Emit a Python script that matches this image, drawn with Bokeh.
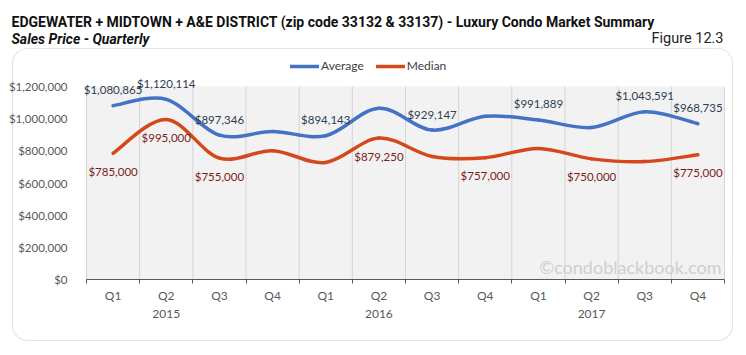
import numpy as np
from bokeh.plotting import figure
from bokeh.core.properties import value
from bokeh.models import (ColumnDataSource, Range1d, FixedTicker, LabelSet, Label,
                          Legend, LegendItem, NumeralTickFormatter, BoxAnnotation, LinearAxis)
from bokeh.embed import file_html
from bokeh.resources import INLINE

# ---------------- data ----------------
quarters = ["Q1", "Q2", "Q3", "Q4", "Q1", "Q2", "Q3", "Q4", "Q1", "Q2", "Q3", "Q4"]
years = ["2015", "2016", "2017"]
average = [1080865, 1120114, 897346, 920000, 894143, 1065000, 929147, 1015000,
           991889, 945000, 1043591, 968735]
median = [785000, 995000, 755000, 800000, 728000, 879250, 765000, 757000,
          815000, 750000, 733000, 775000]
avg_labeled = [1, 1, 1, 0, 1, 0, 1, 0, 1, 0, 1, 1]
med_labeled = [1, 1, 1, 0, 0, 1, 0, 1, 0, 1, 0, 1]
y_ticks = [0, 200000, 400000, 600000, 800000, 1000000, 1200000]

title = "EDGEWATER + MIDTOWN + A&E DISTRICT (zip code 33132 & 33137) - Luxury Condo Market Summary"
subtitle = "Sales Price - Quarterly"
fig_no = "Figure 12.3"
watermark = "\u00a9condoblackbook.com"

BLUE = "#4472C4"
RED = "#D4481C"
AXIS_TXT = "#595959"
FONT = "Lato"
TFONT = "Roboto"

n = len(quarters)
xs = np.arange(n) + 0.5
bounds = list(range(n + 1))
year_pos = [float(xs[j * 4 + 1]) for j in range(len(years))]


def bezier_source(vals):
    P = np.column_stack([xs, np.asarray(vals, dtype=float)])
    d = dict(x0=[], y0=[], x1=[], y1=[], cx0=[], cy0=[], cx1=[], cy1=[])
    for i in range(n - 1):
        p0 = P[max(i - 1, 0)]
        p1 = P[i]
        p2 = P[i + 1]
        p3 = P[min(i + 2, n - 1)]
        c1 = p1 + (p2 - p0) / 6.0
        c2 = p2 - (p3 - p1) / 6.0
        d["x0"].append(p1[0]); d["y0"].append(p1[1])
        d["x1"].append(p2[0]); d["y1"].append(p2[1])
        d["cx0"].append(c1[0]); d["cy0"].append(c1[1])
        d["cx1"].append(c2[0]); d["cy1"].append(c2[1])
    return ColumnDataSource(d)


# ---------------- layout (canvas pixels) ----------------
W, H = 738, 347
PL, PR, PT, PB = 86, 724, 86, 279          # plot area edges
ppx = (PR - PL) / n
ppy = (PB - PT) / y_ticks[-1]

p = figure(width=W, height=H, output_backend="svg", toolbar_location=None,
           x_range=Range1d(-PL / ppx, n + (W - PR) / ppx),
           y_range=Range1d(-(H - PB) / ppy, y_ticks[-1] + PT / ppy),
           min_border_left=0, min_border_right=0, min_border_top=0, min_border_bottom=0)
p.outline_line_color = None
p.background_fill_color = "white"
p.border_fill_color = "white"
p.grid.grid_line_color = None

# outer rounded border
p.add_layout(BoxAnnotation(left=12, right=732, top=H - 48, bottom=H - 340,
                           left_units="screen", right_units="screen",
                           top_units="screen", bottom_units="screen",
                           fill_color=None, line_color="#a6a6a6", line_width=1.2,
                           border_radius=15, level="underlay"))

# plot area background + vertical grid
p.quad(left=[bounds[0]], right=[bounds[-1]], bottom=[y_ticks[0]], top=[y_ticks[-1]],
       fill_color="#f2f2f2", line_color=None)
p.segment(x0=bounds, y0=[y_ticks[0]] * len(bounds), x1=bounds, y1=[y_ticks[-1]] * len(bounds),
          line_color="#d4d4d4", line_width=1)

# x axis: quarters (drawn inside the frame)
p.xaxis.fixed_location = 0
p.xaxis.ticker = FixedTicker(ticks=list(xs), minor_ticks=bounds)
p.xaxis.major_label_overrides = {float(xs[i]): q for i, q in enumerate(quarters)}
p.xaxis.bounds = (0, n)
p.xaxis.major_tick_out = 0
p.xaxis.major_tick_in = 0
p.xaxis.minor_tick_out = 4
p.xaxis.minor_tick_in = 0
p.xaxis.minor_tick_line_color = "#595959"
p.xaxis.axis_line_color = "#595959"
p.xaxis.major_label_standoff = 4
p.xaxis.major_label_text_font = FONT
p.xaxis.major_label_text_font_size = "12px"
p.xaxis.major_label_text_color = AXIS_TXT

# x axis: years
year_axis = LinearAxis(fixed_location=0, ticker=FixedTicker(ticks=year_pos),
                       major_label_overrides={pos: yr for pos, yr in zip(year_pos, years)},
                       axis_line_color=None, major_tick_line_color=None,
                       minor_tick_line_color=None, major_label_standoff=24,
                       major_label_text_font=FONT, major_label_text_font_size="12px",
                       major_label_text_color=AXIS_TXT)
p.add_layout(year_axis, "below")

# y axis
p.yaxis.fixed_location = 0
p.yaxis.ticker = FixedTicker(ticks=y_ticks)
p.yaxis.bounds = (y_ticks[0], y_ticks[-1])
p.yaxis.formatter = NumeralTickFormatter(format="$0,0")
p.yaxis.axis_line_color = None
p.yaxis.major_tick_line_color = None
p.yaxis.minor_tick_line_color = None
p.yaxis.major_label_standoff = 13
p.yaxis.major_label_text_font = FONT
p.yaxis.major_label_text_font_size = "11.5px"
p.yaxis.major_label_text_color = AXIS_TXT

# watermark
p.add_layout(Label(x=n, y=0, x_offset=-3, y_offset=2, text=watermark,
                   text_align="right", text_baseline="bottom",
                   text_font=FONT, text_font_size="18px", text_color="#cfcfcf"))

# curves
r_avg = p.bezier(x0="x0", y0="y0", x1="x1", y1="y1", cx0="cx0", cy0="cy0", cx1="cx1", cy1="cy1",
                 source=bezier_source(average), line_color=BLUE, line_width=3.5, line_cap="round")
r_med = p.bezier(x0="x0", y0="y0", x1="x1", y1="y1", cx0="cx0", cy0="cy0", cx1="cx1", cy1="cy1",
                 source=bezier_source(median), line_color=RED, line_width=3.5, line_cap="round")

# data labels
ai = [i for i in range(n) if avg_labeled[i]]
mi = [i for i in range(n) if med_labeled[i]]
avg_src = ColumnDataSource(dict(x=[xs[i] for i in ai], y=[average[i] for i in ai],
                                t=["${:,}".format(average[i]) for i in ai]))
med_src = ColumnDataSource(dict(x=[xs[i] for i in mi], y=[median[i] for i in mi],
                                t=["${:,}".format(median[i]) for i in mi]))
p.add_layout(LabelSet(x="x", y="y", text="t", source=avg_src, y_offset=16,
                      text_align="center", text_baseline="middle",
                      text_font=value(FONT), text_font_size=value("11.5px"),
                      text_color=value("#2f3e50")))
p.add_layout(LabelSet(x="x", y="y", text="t", source=med_src, y_offset=-18,
                      text_align="center", text_baseline="middle",
                      text_font=value(FONT), text_font_size=value("11.5px"),
                      text_color=value("#7b1c1c")))

# legend
legend = Legend(items=[LegendItem(label="Average", renderers=[r_avg]),
                       LegendItem(label="Median", renderers=[r_med])],
                orientation="horizontal", location=(290, H - 73),
                padding=0, margin=0, spacing=12, glyph_width=29, glyph_height=12,
                label_standoff=2, label_height=14,
                label_text_font=FONT, label_text_font_size="12px", label_text_color="#404040",
                background_fill_alpha=0, border_line_color=None)
p.add_layout(legend, "center")

# titles
p.add_layout(Label(x=11, y=H - 21, x_units="screen", y_units="screen", text=title,
                   text_baseline="middle", text_font=TFONT,
                   text_font_style="bold", text_font_size="14px", text_color="#111111"))
p.add_layout(Label(x=11, y=H - 38, x_units="screen", y_units="screen", text=subtitle,
                   text_baseline="middle", text_font=TFONT,
                   text_font_style="bold italic", text_font_size="14px", text_color="#111111"))
p.add_layout(Label(x=723, y=H - 38, x_units="screen", y_units="screen", text=fig_no,
                   text_align="right", text_baseline="middle", text_font=TFONT,
                   text_font_size="14.5px", text_color="#222222"))

open("out.html", "w").write(file_html(p, INLINE))
